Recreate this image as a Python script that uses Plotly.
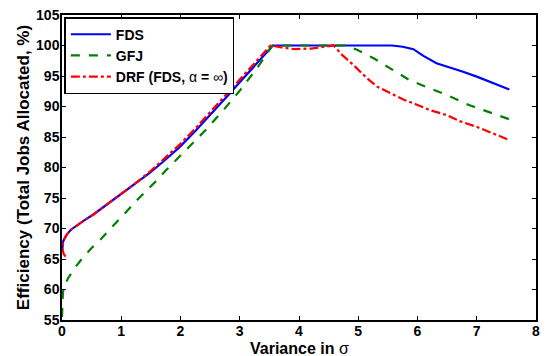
import plotly.graph_objects as go

fds_x = [0.0, 0.005, 0.02, 0.05, 0.08, 0.15, 0.25, 0.4, 0.53, 0.75, 1.03, 1.25, 1.48, 1.7, 1.98, 2.25, 2.53, 2.8, 3.03, 3.3, 3.56,
         5.57, 5.75, 5.93, 6.1, 6.32, 6.55, 6.77, 7.0, 7.21, 7.4, 7.55]
fds_y = [66.2, 67.2, 67.9, 68.5, 69.0, 69.8, 70.5, 71.5, 72.3, 73.9, 75.8, 77.4, 79.1, 80.9, 83.3, 86.0, 88.9, 91.8, 94.3, 97.2, 100.0,
         100.0, 99.8, 99.4, 98.3, 97.1, 96.4, 95.7, 94.9, 94.1, 93.4, 92.8]

gfj_x = [0.0, 0.005, 0.015, 0.04, 0.1, 0.22, 0.35, 0.5, 0.65, 0.81, 0.95, 1.09, 1.25, 1.42, 1.59, 1.75, 1.98, 2.09, 2.42, 2.75, 3.0, 3.3, 3.55,
         4.8, 4.98, 5.26, 5.54, 5.87, 6.15, 6.49, 6.88, 7.21, 7.55]
gfj_y = [55.5, 57.5, 59.5, 60.5, 61.8, 63.6, 65.2, 66.8, 68.2, 69.9, 71.3, 72.8, 74.5, 76.1, 77.8, 79.5, 81.8, 82.9, 86.1, 89.7, 92.6, 96.4, 100.0,
         100.0, 99.3, 97.9, 96.3, 94.3, 93.2, 91.9, 90.2, 89.1, 87.9]

drf_x = [0.06, 0.03, 0.012, 0.008, 0.02, 0.05, 0.08, 0.15, 0.25, 0.4, 0.53, 0.75, 1.03, 1.25, 1.48, 1.7, 1.98, 2.25, 2.53, 2.8, 3.03, 3.3, 3.52,
         3.7, 3.92, 4.2, 4.48, 4.59, 4.7, 4.92, 5.15, 5.32, 5.54, 5.77, 5.99, 6.21, 6.49, 6.71, 6.99, 7.27, 7.55]
drf_y = [65.4, 65.8, 66.4, 67.2, 67.9, 68.5, 69.0, 69.8, 70.5, 71.5, 72.3, 73.9, 75.8, 77.5, 79.3, 81.2, 83.7, 86.4, 89.4, 92.3, 94.8, 97.6, 100.0,
         99.7, 99.4, 99.5, 99.8, 100.0, 98.7, 96.8, 94.6, 93.25, 92.2, 91.1, 90.3, 89.4, 88.6, 87.6, 86.7, 85.6, 84.5]

fig = go.Figure()
fig.add_trace(go.Scatter(x=fds_x, y=fds_y, mode="lines", name="<b>FDS</b>",
                         line=dict(color="#0000ff", width=2.2)))
fig.add_trace(go.Scatter(x=gfj_x, y=gfj_y, mode="lines", name="<b>GFJ</b>",
                         line=dict(color="#008000", width=2.2, dash="dash")))
fig.add_trace(go.Scatter(x=drf_x, y=drf_y, mode="lines", name="<b>DRF (FDS, </b>α<b> = </b>∞<b>)</b>",
                         line=dict(color="#ff0000", width=2.2, dash="dashdot")))

axis_common = dict(showgrid=False, zeroline=False, ticks="inside", ticklen=4, tickcolor="black",
                   linecolor="black", linewidth=1.5, mirror="ticks", showline=True,
                   tickfont=dict(family="Liberation Sans", size=14, color="black"))

xt = list(range(0, 9))
fig.update_xaxes(range=[0, 8], tickvals=xt, ticktext=[f"<b>{v}</b>" for v in xt],
                 ticklabelstandoff=-3, **axis_common)
yt = list(range(55, 106, 5))
fig.update_yaxes(range=[55, 105], tickvals=yt, ticktext=[f"<b>{v}</b>" for v in yt],
                 ticklabelstandoff=-2,
                 title=dict(text="<b>Efficiency (Total Jobs Allocated, %)</b>", standoff=2,
                            font=dict(family="Liberation Sans", size=17, color="black")),
                 **axis_common)

fig.add_annotation(text="<b>Variance in </b>σ", xref="x", yref="paper", x=4, y=0,
                   xanchor="center", yanchor="top", yshift=-18, showarrow=False,
                   font=dict(family="Liberation Sans", size=16, color="black"))

fig.update_layout(
    width=545, height=356,
    margin=dict(l=62, r=5, t=15, b=36),
    plot_bgcolor="white", paper_bgcolor="white",
    font=dict(family="Liberation Sans", color="black"),
    legend=dict(x=0.005, y=0.993, xanchor="left", yanchor="top",
                bgcolor="white", bordercolor="black", borderwidth=1.5,
                font=dict(family="Liberation Sans", size=14, color="black"),
                tracegroupgap=0, itemwidth=40),
    showlegend=True,
)

fig.write_html("out.html")
